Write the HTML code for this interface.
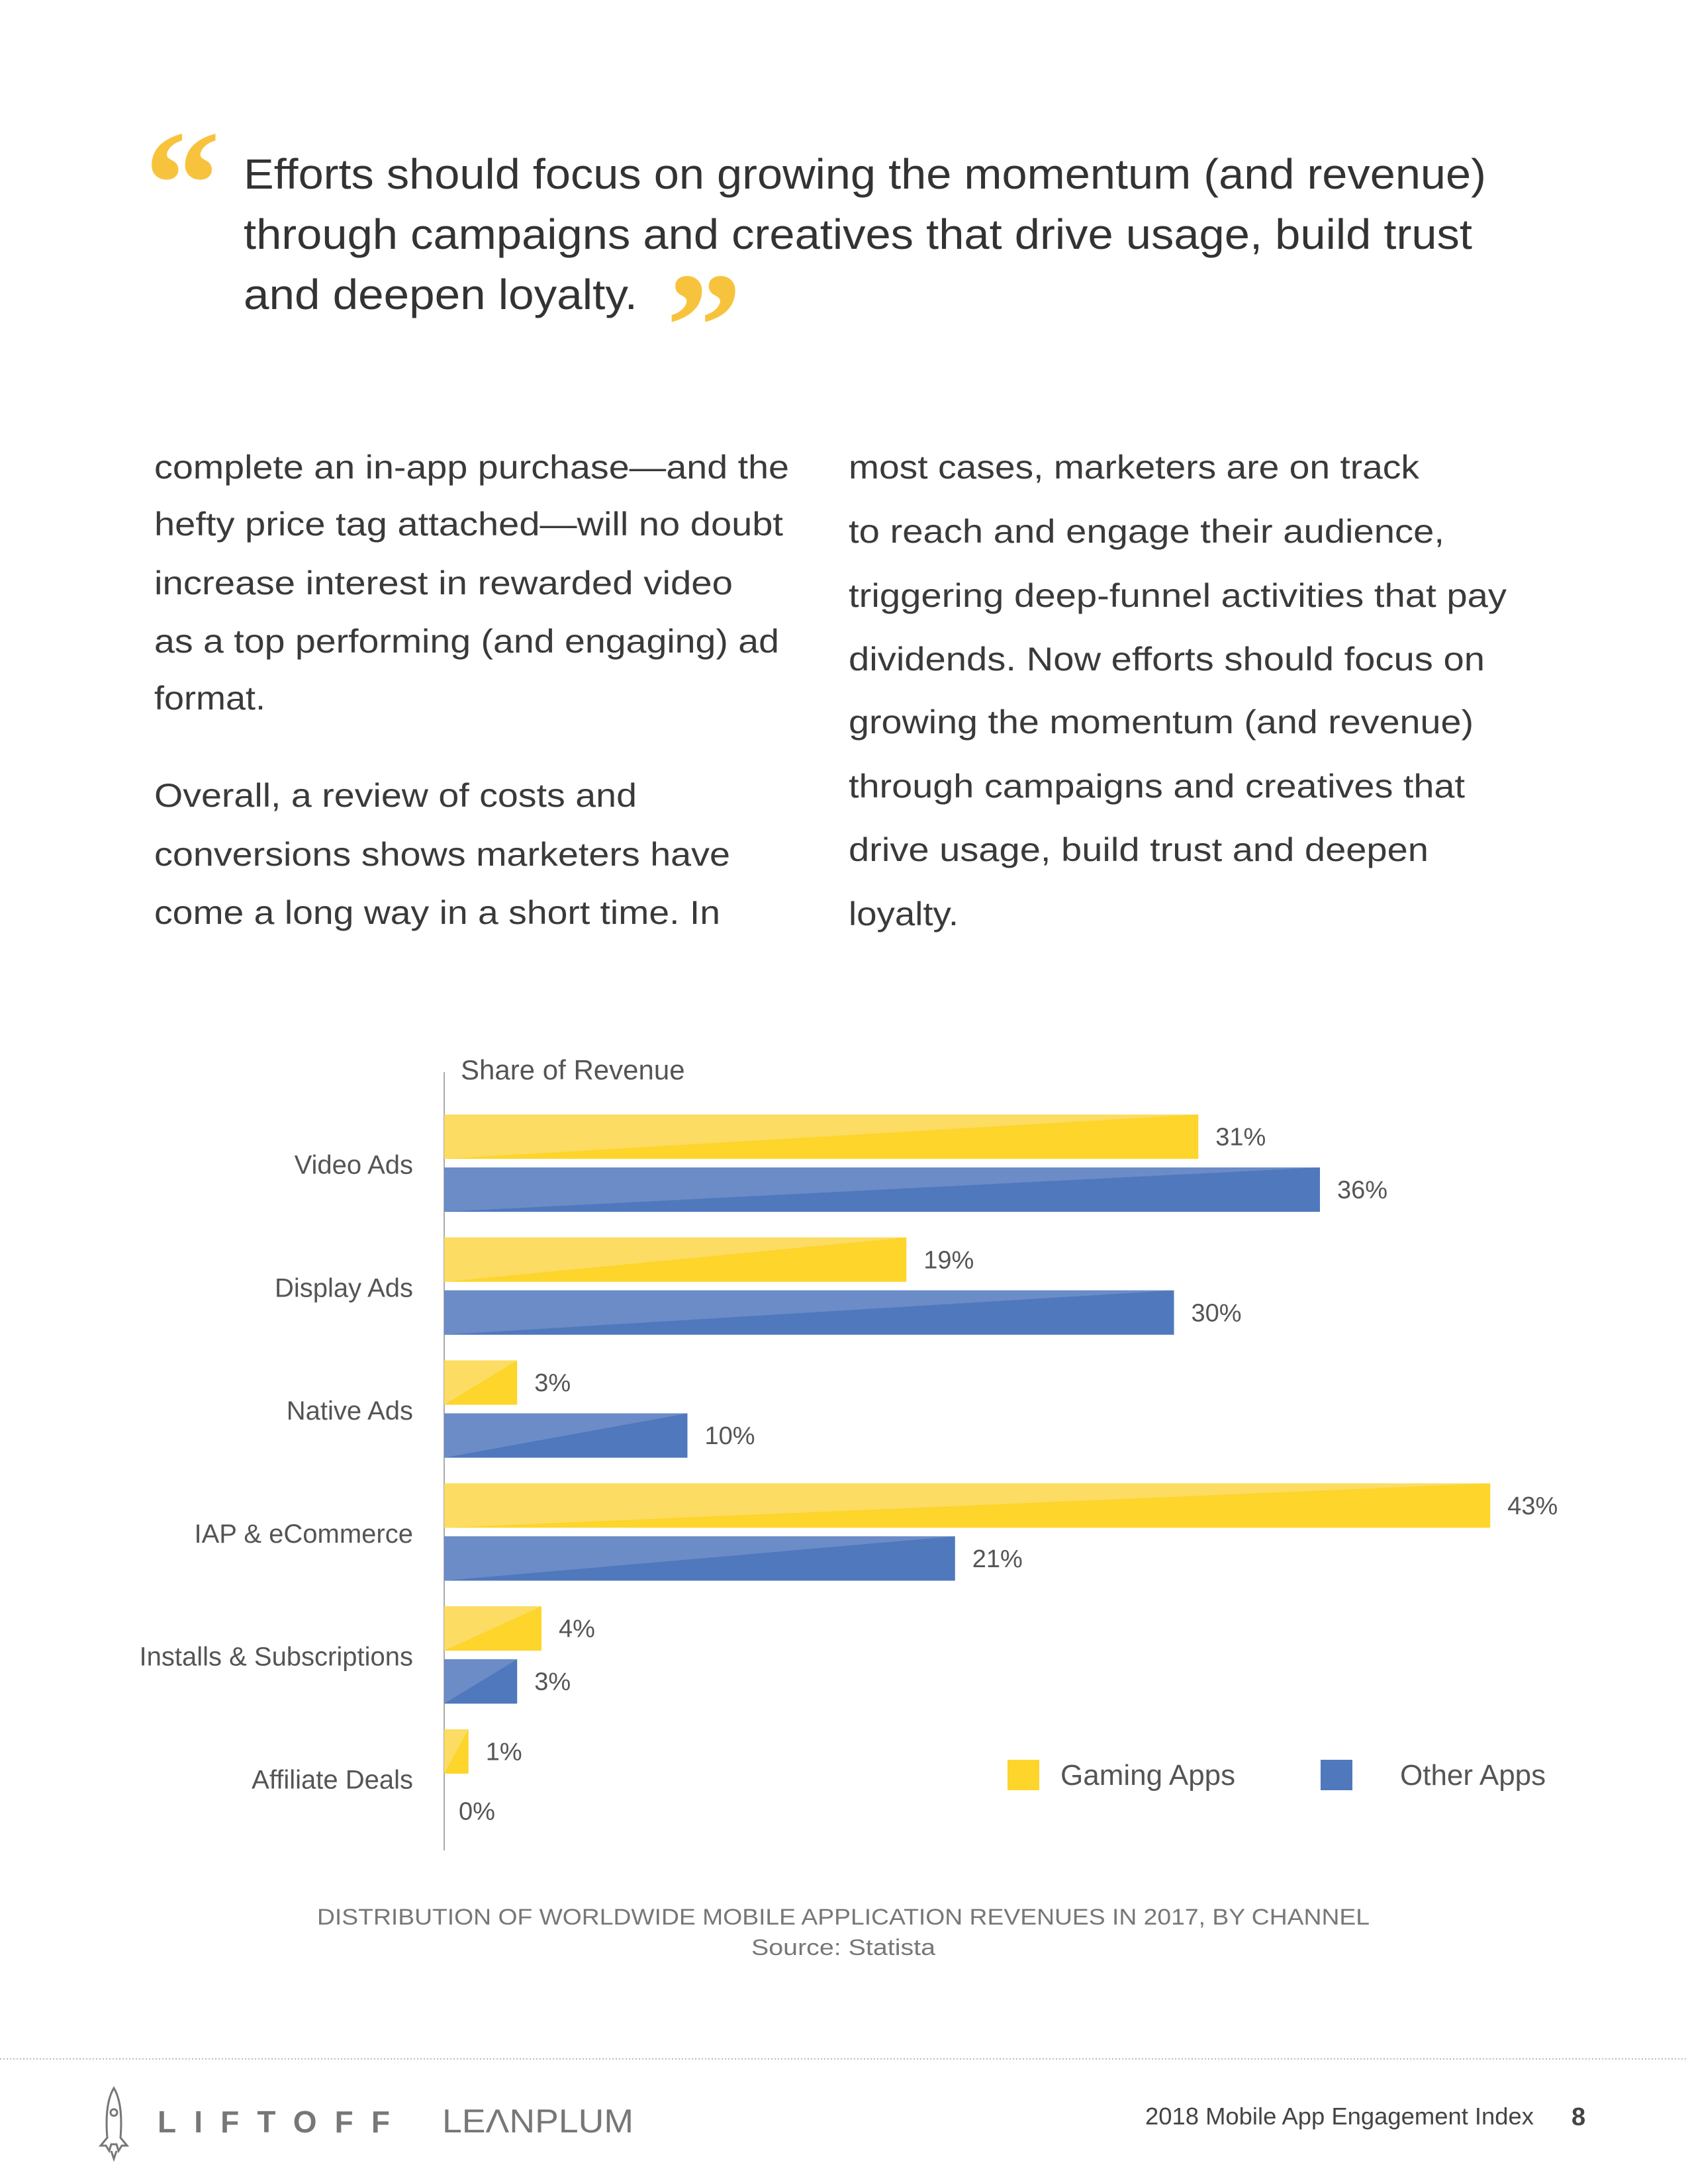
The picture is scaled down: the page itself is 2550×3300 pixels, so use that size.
<!DOCTYPE html>
<html><head><meta charset="utf-8">
<style>
html,body{margin:0;padding:0;background:#fff;}
body{width:2550px;height:3300px;overflow:hidden;font-family:"Liberation Sans",sans-serif;}
svg{display:block}
</style></head>
<body>
<svg id="page" width="2550" height="3300" viewBox="0 0 2550 3300" xmlns="http://www.w3.org/2000/svg" font-family="Liberation Sans, sans-serif">
  <g>
    <text x="218" y="355" font-size="230" font-weight="bold" fill="#f8c33c" font-family="Liberation Serif, serif">“</text>
    <text x="368" y="285" font-size="64" fill="#333" textLength="1877" lengthAdjust="spacingAndGlyphs">Efforts should focus on growing the momentum (and revenue)</text>
    <text x="368" y="376" font-size="64" fill="#333" textLength="1856" lengthAdjust="spacingAndGlyphs">through campaigns and creatives that drive usage, build trust</text>
    <text x="368" y="467" font-size="64" fill="#333" textLength="595" lengthAdjust="spacingAndGlyphs">and deepen loyalty.</text>
    <text x="1006" y="570" font-size="230" font-weight="bold" fill="#f8c33c" font-family="Liberation Serif, serif">”</text>
  </g>
  <g id="body" font-size="50" fill="#3a3a3a"></g>
  <g id="chart"></g>
  <g fill="#777" text-anchor="middle">
    <text x="1274" y="2908" font-size="34" textLength="1590" lengthAdjust="spacingAndGlyphs">DISTRIBUTION OF WORLDWIDE MOBILE APPLICATION REVENUES IN 2017, BY CHANNEL</text>
    <text x="1274" y="2954" font-size="34" textLength="278" lengthAdjust="spacingAndGlyphs">Source: Statista</text>
  </g>
  <line x1="0" y1="3111" x2="2550" y2="3111" stroke="#bbb" stroke-width="2" stroke-dasharray="2,3"/>
  <g>
    <g fill="none" stroke="#777" stroke-width="3">
      <path d="M172 3155 C160 3175 160 3205 162 3230 L152 3242 L160 3242 L165 3250 L168 3240 L176 3240 L179 3250 L184 3242 L192 3242 L182 3230 C184 3205 184 3175 172 3155 Z"/>
      <circle cx="172" cy="3192" r="5"/>
      <path d="M168 3250 L172 3262 L176 3250"/>
    </g>
    <text x="238" y="3222" font-size="46" font-weight="bold" fill="#777" textLength="351" lengthAdjust="spacing">LIFTOFF</text>
    <text x="668" y="3222" font-size="50" fill="#777" textLength="289" lengthAdjust="spacingAndGlyphs">LEΛNPLUM</text>
    <text x="1730" y="3210" font-size="36" fill="#444" textLength="587" lengthAdjust="spacingAndGlyphs">2018 Mobile App Engagement Index</text>
    <text x="2374" y="3211" font-size="38" font-weight="bold" fill="#444">8</text>
  </g>
</svg>
<script>
const NS="http://www.w3.org/2000/svg";
function mk(tag,attrs,parent){const e=document.createElementNS(NS,tag);for(const k in attrs)e.setAttribute(k,attrs[k]);parent.appendChild(e);return e;}

const leftLines=[["complete an in-app purchase—and the",723,959],["hefty price tag attached—will no doubt",809,950],["increase interest in rewarded video",898,874],["as a top performing (and engaging) ad",986,944],["format.",1072,168],["Overall, a review of costs and",1219,729],["conversions shows marketers have",1308,870],["come a long way in a short time. In",1396,855]];
const rightLines=[["most cases, marketers are on track",723,862],["to reach and engage their audience,",820,900],["triggering deep-funnel activities that pay",917,994],["dividends. Now efforts should focus on",1013,961],["growing the momentum (and revenue)",1108,944],["through campaigns and creatives that",1205,931],["drive usage, build trust and deepen",1301,876],["loyalty.",1398,166]];
const bodyG=document.getElementById('body');
leftLines.forEach(l=>{const t=mk('text',{x:233,y:l[1],textLength:l[2],lengthAdjust:'spacingAndGlyphs'},bodyG);


t.textContent=l[0];});
rightLines.forEach(l=>{const t=mk('text',{x:1282,y:l[1],textLength:l[2],lengthAdjust:'spacingAndGlyphs'},bodyG);


t.textContent=l[0];});

const categories=["Video Ads","Display Ads","Native Ads","IAP & eCommerce","Installs & Subscriptions","Affiliate Deals"];
const gamingValues=[31,19,3,43,4,1];
const otherValues=[36,30,10,21,3,0];
const seriesNames=["Gaming Apps","Other Apps"];

const X0=671, PX_PER_PCT=36.75, TOP=1684, PITCH=185.8, BAR_H=67, OFF=80;
const xScale=v=>X0+v*PX_PER_PCT;
const yBand=i=>TOP+i*PITCH;
const chart=document.getElementById('chart');

const axis=mk('line',{x1:X0,y1:1620,x2:X0,y2:2796,stroke:'#aaa','stroke-width':2},chart);


const ttl=mk('text',{x:696,y:1631,'font-size':42,fill:'#555'},chart);


ttl.textContent="Share of Revenue";

const styles=[{dark:'#fdd52b',light:'#fcdc62'},{dark:'#4f78bd',light:'#6b8cc7'}];
function bar(i,v,s){
  const y=yBand(i)+(s?OFF:0), x1=xScale(v), w=x1-X0;
  const g=mk('g',{},chart);
  
  
  if(w>0){
    mk('rect',{x:X0,y:y,width:w,height:BAR_H,fill:styles[s].dark},g);
    mk('polygon',{points:`${X0},${y} ${x1},${y} ${X0},${y+BAR_H}`,fill:styles[s].light},g);
  }
  const lb=mk('text',{x:x1+(w>0?26:22),y:y+BAR_H/2+13+(w>0?0:10),'font-size':38,fill:'#555'},chart);
  
  
  lb.textContent=v+'%';
}
categories.forEach((c,i)=>{
  bar(i,gamingValues[i],0);
  bar(i,otherValues[i],1);
  const t=mk('text',{x:624,y:yBand(i)+(BAR_H+OFF)/2+16,'font-size':40,fill:'#555','text-anchor':'end'},chart);
  
  
  t.textContent=c;
});

const legX=[1522,1995], legTX=[1602,2115];
seriesNames.forEach((n,s)=>{
  const r=mk('rect',{x:legX[s],y:2659,width:48,height:46,fill:styles[s].dark},chart);
  
  
  const t=mk('text',{x:legTX[s],y:2697,'font-size':44,fill:'#555'},chart);
  
  
  t.textContent=n;
});
</script>
</body></html>
